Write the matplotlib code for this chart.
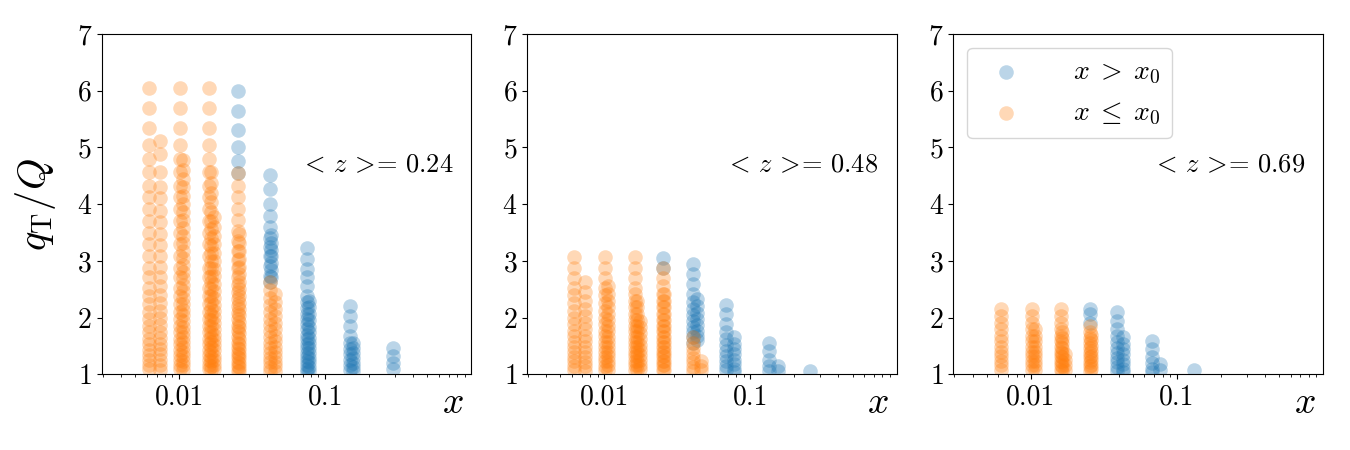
"""Three-panel scatter of q_T/Q against x, one panel per <z> bin.

Each column of points is one x bin; blue marks x > x0, orange x <= x0.
"""

import matplotlib
matplotlib.use("Agg")  # headless backend
import matplotlib.pyplot as plt
from matplotlib.ticker import NullFormatter

plt.rcParams["font.family"] = "serif"
plt.rcParams["font.serif"] = ["cmr10", "DejaVu Serif"]
plt.rcParams["mathtext.fontset"] = "cm"
plt.rcParams["axes.unicode_minus"] = False
plt.rcParams["axes.formatter.use_mathtext"] = True

Z_MEAN = [0.24, 0.48, 0.69]
X_TICKS = [0.01, 0.1]
X_TICK_LABELS = ["0.01", "0.1"]
Y_TICKS = [1, 2, 3, 4, 5, 6, 7]
LEGEND_LABELS = [r"$x\;>\;x_0$", r"$x\;\leq\;x_0$"]

# ---- panel 1, <z> = 0.24 ----
P1_BLUE_X = [0.0254, 0.042, 0.0425, 0.0753, 0.077, 0.148, 0.156, 0.291]
P1_BLUE_Y = [
    [6.0, 5.65, 5.31, 5.01, 4.76, 4.55],
    [4.51, 4.27, 4.0, 3.79, 3.59, 3.41, 3.25, 3.09, 2.91, 2.73, 2.62],
    [3.45, 3.32, 3.2, 3.08, 2.96, 2.84, 2.72],
    [3.22, 3.03, 2.85, 2.71, 2.56, 2.38, 2.27, 2.17, 2.07, 1.97, 1.88, 1.79,
     1.70, 1.62, 1.54, 1.46, 1.38, 1.31, 1.24, 1.17, 1.10, 1.04],
    [2.3, 2.18, 2.06, 1.95, 1.84, 1.74, 1.64, 1.55, 1.46, 1.37, 1.29, 1.21,
     1.13, 1.06],
    [2.2, 2.03, 1.85, 1.68, 1.56, 1.45, 1.35, 1.26, 1.17, 1.08],
    [1.56, 1.46, 1.37, 1.28, 1.2, 1.12, 1.05],
    [1.47, 1.32, 1.2, 1.09],
]
P1_ORANGE_X = [0.0062, 0.0074, 0.0101, 0.0106, 0.0160, 0.0165, 0.0172,
               0.0254, 0.0258, 0.042, 0.0455]
P1_ORANGE_Y = [
    [6.04, 5.69, 5.34, 5.04, 4.79, 4.56, 4.32, 4.12, 3.91, 3.71, 3.50, 3.29,
     3.09, 2.88, 2.71, 2.53, 2.38, 2.24, 2.10, 1.97, 1.85, 1.74, 1.63, 1.53,
     1.43, 1.34, 1.25, 1.17, 1.09],
    [5.11, 4.88, 4.56, 4.30, 4.10, 3.88, 3.68, 3.48, 3.28, 3.08, 2.90, 2.72,
     2.55, 2.40, 2.26, 2.12, 1.99, 1.87, 1.75, 1.64, 1.54, 1.44, 1.35, 1.26,
     1.17, 1.08],
    [6.04, 5.69, 5.34, 5.04, 4.79, 4.56, 4.32, 4.12, 3.91, 3.71, 3.50, 3.29,
     3.09, 2.88, 2.71, 2.53, 2.38, 2.24, 2.10, 1.97, 1.85, 1.74, 1.63, 1.53,
     1.43, 1.34, 1.25, 1.17, 1.09],
    [4.77, 4.6, 4.45, 4.3, 4.15, 4.0, 3.86, 3.72, 3.58, 3.44, 3.31, 3.18,
     3.05, 2.93, 2.81, 2.69, 2.57, 2.46, 2.35, 2.24, 2.14, 2.04, 1.94, 1.84,
     1.75, 1.66, 1.57, 1.48, 1.40, 1.32, 1.24, 1.16, 1.08],
    [6.04, 5.69, 5.34, 5.04, 4.79, 4.56, 4.32, 4.12, 3.91, 3.71, 3.50, 3.29,
     3.09, 2.88, 2.71, 2.53, 2.38, 2.24, 2.10, 1.97, 1.85, 1.74, 1.63, 1.53,
     1.43, 1.34, 1.25, 1.17, 1.09],
    [4.56, 4.38, 4.2, 4.03, 3.87, 3.71, 3.56, 3.41, 3.27, 3.13, 3.0, 2.87,
     2.74, 2.62, 2.5, 2.38, 2.27, 2.16, 2.05, 1.95, 1.85, 1.75, 1.66, 1.57,
     1.48, 1.39, 1.31, 1.23, 1.15, 1.07],
    [3.77, 3.6, 3.44, 3.29, 3.14, 3.0, 2.86, 2.73, 2.6, 2.47, 2.35, 2.23,
     2.12, 2.01, 1.9, 1.8, 1.7, 1.6, 1.51, 1.42, 1.33, 1.25, 1.17, 1.09],
    [4.55, 4.32, 4.12, 3.92, 3.72, 3.52, 3.35, 3.18, 3.02, 2.87, 2.72, 2.58,
     2.45, 2.32, 2.2, 2.08, 1.97, 1.86, 1.76, 1.66, 1.56, 1.47, 1.38, 1.3,
     1.22, 1.14, 1.06],
    [3.47, 3.32, 3.17, 3.03, 2.89, 2.76, 2.63, 2.5, 2.38, 2.26, 2.15, 2.04,
     1.93, 1.83, 1.73, 1.63, 1.54, 1.45, 1.36, 1.28, 1.2, 1.12, 1.05],
    [2.62, 2.48, 2.35, 2.22, 2.1, 1.98, 1.87, 1.76, 1.66, 1.56, 1.47, 1.38,
     1.29, 1.21, 1.13, 1.06],
    [2.42, 2.28, 2.15, 2.02, 1.9, 1.79, 1.68, 1.58, 1.48, 1.39, 1.3, 1.22,
     1.14, 1.06],
]

# ---- panel 2, <z> = 0.48 ----
P2_BLUE_X = [0.0253, 0.0405, 0.0431, 0.068, 0.0768, 0.134, 0.154, 0.255]
P2_BLUE_Y = [
    [3.05, 2.88],
    [2.94, 2.76, 2.59, 2.41, 2.28, 2.16, 2.05, 1.94, 1.84, 1.74, 1.65, 1.56],
    [2.32, 2.2, 2.08, 1.97, 1.87, 1.77, 1.68, 1.6],
    [2.23, 2.06, 1.88, 1.74, 1.62, 1.51, 1.41, 1.32, 1.23, 1.15, 1.07],
    [1.65, 1.54, 1.44, 1.35, 1.26, 1.18, 1.1, 1.04],
    [1.56, 1.41, 1.26, 1.15, 1.06],
    [1.15, 1.06],
    [1.06],
]
P2_ORANGE_X = [0.0062, 0.0074, 0.0101, 0.0106, 0.0163, 0.0166, 0.0176,
               0.0253, 0.0256, 0.0405, 0.046]
P2_ORANGE_Y = [
    [3.07, 2.87, 2.70, 2.53, 2.39, 2.25, 2.12, 2.0, 1.88, 1.77, 1.67, 1.57,
     1.48, 1.39, 1.31, 1.23, 1.15, 1.07],
    [2.62, 2.45, 2.3, 2.16, 2.03, 1.91, 1.79, 1.68, 1.58, 1.48, 1.39, 1.3,
     1.22, 1.14, 1.06],
    [3.07, 2.87, 2.70, 2.53, 2.39, 2.25, 2.12, 2.0, 1.88, 1.77, 1.67, 1.57,
     1.48, 1.39, 1.31, 1.23, 1.15, 1.07],
    [2.55, 2.42, 2.3, 2.18, 2.07, 1.96, 1.86, 1.76, 1.66, 1.57, 1.48, 1.4,
     1.32, 1.24, 1.16, 1.08],
    [3.07, 2.87, 2.70, 2.53, 2.42, 2.3, 2.18, 2.07, 1.96, 1.86, 1.76, 1.66,
     1.57, 1.48, 1.4, 1.32, 1.24, 1.16, 1.08],
    [2.3, 2.18, 2.07, 1.96, 1.86, 1.76, 1.66, 1.57, 1.48, 1.4, 1.32, 1.24,
     1.16, 1.08],
    [1.94, 1.83, 1.72, 1.62, 1.52, 1.43, 1.34, 1.25, 1.17, 1.09],
    [2.88, 2.70, 2.55, 2.42, 2.3, 2.18, 2.07, 1.96, 1.86, 1.76, 1.66, 1.57,
     1.48, 1.4, 1.32, 1.24, 1.16, 1.08],
    [2.42, 2.3, 2.18, 2.07, 1.96, 1.86, 1.76, 1.66, 1.57, 1.48, 1.4, 1.32,
     1.24, 1.16, 1.08],
    [1.65, 1.55, 1.46, 1.37, 1.29, 1.21, 1.13, 1.06],
    [1.23, 1.15, 1.07],
]

# ---- panel 3, <z> = 0.69 ----
P3_BLUE_X = [0.0255, 0.0388, 0.0429, 0.0675, 0.0769, 0.1315]
P3_BLUE_Y = [
    [2.16, 2.06, 1.91],
    [2.1, 1.94, 1.8, 1.68, 1.57, 1.47, 1.38, 1.29, 1.21, 1.13, 1.06],
    [1.65, 1.54, 1.44, 1.35, 1.26, 1.18, 1.1, 1.04],
    [1.59, 1.44, 1.31, 1.2, 1.1, 1.04],
    [1.18, 1.08],
    [1.07],
]
P3_ORANGE_X = [0.0062, 0.0102, 0.0107, 0.0161, 0.0164, 0.0172, 0.0255,
               0.0257]
P3_ORANGE_Y = [
    [2.16, 2.02, 1.9, 1.79, 1.68, 1.58, 1.49, 1.4, 1.32, 1.24, 1.16, 1.08],
    [2.16, 2.02, 1.9, 1.79, 1.68, 1.58, 1.49, 1.4, 1.32, 1.24, 1.16, 1.08],
    [1.79, 1.68, 1.58, 1.49, 1.4, 1.32, 1.24, 1.16, 1.08],
    [2.16, 2.02, 1.9, 1.79, 1.68, 1.58, 1.49, 1.4, 1.32, 1.24, 1.16, 1.08],
    [1.74, 1.64, 1.55, 1.46, 1.38, 1.3, 1.22, 1.14, 1.06],
    [1.35, 1.25, 1.16, 1.08],
    [1.85, 1.74, 1.64, 1.55, 1.46, 1.38, 1.3, 1.22, 1.14, 1.06],
    [1.7, 1.6, 1.5, 1.41, 1.33, 1.25, 1.17, 1.09],
]

PANELS = [
    (P1_BLUE_X, P1_BLUE_Y, P1_ORANGE_X, P1_ORANGE_Y),
    (P2_BLUE_X, P2_BLUE_Y, P2_ORANGE_X, P2_ORANGE_Y),
    (P3_BLUE_X, P3_BLUE_Y, P3_ORANGE_X, P3_ORANGE_Y),
]


def _flatten(xs, ys):
    """Expand per-column y lists into flat x, y point lists."""
    px, py = [], []
    for x, col in zip(xs, ys):
        px.extend([x] * len(col))
        py.extend(col)
    return px, py


fig = plt.figure(figsize=(13.5, 4.5), dpi=100)
lefts = [101.7 / 1350, 527.0 / 1350, 953.4 / 1350]
width = 369.5 / 1350
bottom = 1 - 374.3 / 450
height = 340.3 / 450

for i, (bx, by, ox, oy) in enumerate(PANELS):
    ax = fig.add_axes([lefts[i], bottom, width, height])
    x, y = _flatten(bx, by)
    ax.scatter(x, y, s=110, color="C0", alpha=0.3, linewidths=0,
               label=LEGEND_LABELS[0])
    x, y = _flatten(ox, oy)
    ax.scatter(x, y, s=110, color="C1", alpha=0.3, linewidths=0,
               label=LEGEND_LABELS[1])

    ax.set_xscale("log")
    ax.set_xlim(0.00295, 1.0)
    ax.set_ylim(1, 7)
    ax.set_xticks(X_TICKS)
    ax.set_xticklabels(X_TICK_LABELS)
    ax.xaxis.set_minor_formatter(NullFormatter())
    ax.set_yticks(Y_TICKS)
    ax.tick_params(labelsize=20)

    ax.set_xlabel(r"$x$", fontsize=27, va="center")
    ax.xaxis.set_label_coords(0.95, -0.085)

    # mathtext pads every relation by 0.2em; pull ">=" together like LaTeX
    ax.text(0.537, 0.615, r"$<\,z\,>\!\!=\,%.2f$" % Z_MEAN[i],
            transform=ax.transAxes, ha="left", va="center", fontsize=19)

    if i == 0:
        ax.set_ylabel(r"$q_{\rm T}/Q$", fontsize=29)
        ax.yaxis.set_label_coords(-0.118, 0.5)
    if i == 2:
        ax.legend(loc="upper left", fontsize=20, handletextpad=1.4)

fig.savefig("out.png", dpi=100)
plt.close(fig)
